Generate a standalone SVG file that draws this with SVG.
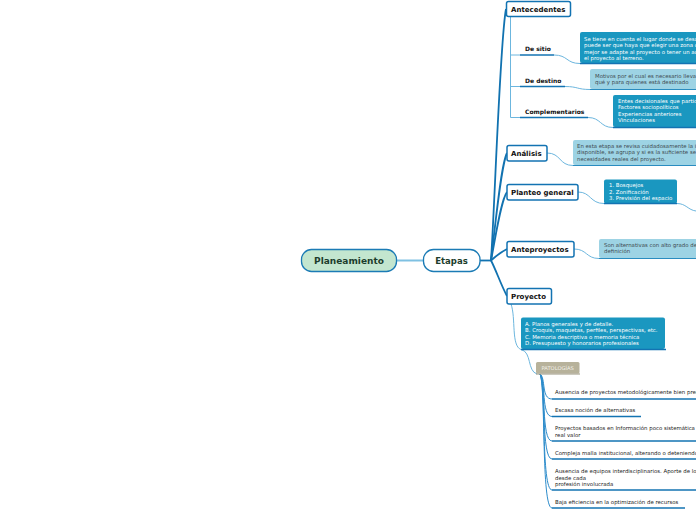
<svg xmlns="http://www.w3.org/2000/svg" width="696" height="520" viewBox="0 0 696 520">
<style>
.bg{fill:#ffffff}
.main{fill:none;stroke:#1172b0;stroke-width:1.8}
.thin{fill:none;stroke:#6cb6de;stroke-width:1}
.fan{fill:none;stroke:#2d8ccb;stroke-width:1}
.ul{fill:none;stroke:#1373b2;stroke-width:1.5}
.box{fill:#ffffff;stroke:#1373b2;stroke-width:1.5}
.lbl{font-family:"DejaVu Sans",Verdana,sans-serif;font-weight:bold;font-size:7px;fill:#111}
.sub{font-family:"DejaVu Sans",Verdana,sans-serif;font-weight:bold;font-size:6px;fill:#111}
.dark{fill:#1a97c0}
.light{fill:#9dd3e4}
.nt{font-family:"DejaVu Sans",Verdana,sans-serif;font-size:5.4px;fill:#ffffff}
.ntd{font-family:"DejaVu Sans",Verdana,sans-serif;font-size:5.4px;fill:#3d4a50}
.it{font-family:"DejaVu Sans",Verdana,sans-serif;font-size:5.4px;fill:#222}
</style>
<rect class="bg" x="0" y="0" width="696" height="520"/>

<g id="connectors">
  <line x1="397" y1="260.5" x2="423" y2="260.5" stroke="#7fc1e2" stroke-width="2"/>
  <line x1="480" y1="260.5" x2="491" y2="260.5" class="main"/>
  <path class="main" d="M491,260.5 C495,200 500,40 506,9"/>
  <path class="main" d="M491,260.5 C496,220 501,165 507,153"/>
  <path class="main" d="M491,260.5 C496,235 501,200 507,192"/>
  <path class="main" d="M491,260.5 C496,256 501,252 507,249"/>
  <path class="main" d="M491,260.5 C496,270 501,285 507,296"/>
  <path class="thin" d="M510.5,17 V117.5 H520"/>
  <path class="thin" d="M510.5,55 H520"/>
  <path class="thin" d="M510.5,86.5 H520"/>
  <line class="ul" x1="520" y1="55" x2="554" y2="55"/>
  <line class="ul" x1="520" y1="86.5" x2="565" y2="86.5"/>
  <line class="ul" x1="520" y1="117.5" x2="588" y2="117.5"/>
  <path class="thin" d="M554,55 C568,55 566,63.5 580,63.5"/>
  <path class="thin" d="M565,86.5 C578,86.5 577,89.5 590,89.5"/>
  <path class="thin" d="M588,117.5 C601,117.5 600,127.5 613,127.5"/>
  <path class="thin" d="M547,153 C561,153 559,165.5 573,165.5"/>
  <path class="thin" d="M578,192 C591,192 590,203.5 604,203.5"/>
  <path class="thin" d="M677,203.5 C686,203.5 688,210 696,211"/>
  <path class="thin" d="M574,249 C587,249 586,258.5 599,258.5"/>
  <path class="thin" d="M511,304 C516,318 511,346 521,349.5"/>
  <path class="thin" d="M521,349.5 C532,352 527,371 537,374"/>
  <path class="fan" d="M540,374 C546,378 541,399 552,399"/>
  <path class="fan" d="M540,374 C546,380 541,416.5 552,416.5"/>
  <path class="fan" d="M540,374 C546,382 541,441 552,441"/>
  <path class="fan" d="M540,374 C546,384 541,459 552,459"/>
  <path class="fan" d="M540,374 C546,386 541,490 552,490"/>
  <path class="fan" d="M540,374 C546,388 541,508 552,508"/>
  <line class="ul" x1="552" y1="399" x2="696" y2="399"/>
  <line class="ul" x1="552" y1="416.5" x2="641" y2="416.5"/>
  <line class="ul" x1="552" y1="441" x2="696" y2="441"/>
  <line class="ul" x1="552" y1="459" x2="696" y2="459"/>
  <line class="ul" x1="552" y1="490" x2="696" y2="490"/>
  <line class="ul" x1="552" y1="508" x2="685" y2="508"/>
</g>

<g id="planeamiento">
  <rect x="301.5" y="249.5" width="95" height="22" rx="10" fill="#c3e6cf" stroke="#1b7bb5" stroke-width="1.3"/>
  <text x="349" y="264" text-anchor="middle" font-family="DejaVu Sans, Verdana, sans-serif" font-weight="bold" font-size="9" fill="#1c3d2d">Planeamiento</text>
</g>
<g id="etapas">
  <rect x="423.5" y="249.5" width="56.5" height="22" rx="10" fill="#ffffff" stroke="#1b7bb5" stroke-width="1.3"/>
  <text x="451.5" y="264" text-anchor="middle" font-family="DejaVu Sans, Verdana, sans-serif" font-weight="bold" font-size="8.5" fill="#1c3d2d">Etapas</text>
</g>

<g id="antecedentes">
  <rect class="box" x="506.5" y="1.5" width="64" height="15" rx="2"/>
  <text class="lbl" x="511" y="11.8">Antecedentes</text>
</g>
<g id="de-sitio">
  <text class="sub" x="525" y="51">De sitio</text>
</g>
<g id="de-sitio-note">
  <rect class="dark" x="580" y="32" width="120" height="31" rx="2"/>
  <line class="ul" x1="580" y1="63.5" x2="700" y2="63.5"/>
  <text class="nt" x="584" y="40.5">Se tiene en cuenta el lugar donde se desarrollará</text>
  <text class="nt" x="584" y="47">puede ser que haya que elegir una zona que</text>
  <text class="nt" x="584" y="53.5">mejor se adapte al proyecto o tener un acercamiento</text>
  <text class="nt" x="584" y="60">el proyecto al terreno.</text>
</g>
<g id="de-destino">
  <text class="sub" x="525" y="82.5">De destino</text>
</g>
<g id="de-destino-note">
  <rect class="light" x="590" y="69" width="110" height="20" rx="2"/>
  <line x1="590" y1="89.5" x2="700" y2="89.5" stroke="#2a8cc0" stroke-width="1"/>
  <text class="ntd" x="595" y="77.5">Motivos por el cual es necesario llevar</text>
  <text class="ntd" x="595" y="84">qué y para quienes está destinado</text>
</g>
<g id="complementarios">
  <text class="sub" x="525" y="113.5">Complementarios</text>
</g>
<g id="complementarios-note">
  <rect class="dark" x="613" y="95" width="90" height="32" rx="2"/>
  <line class="ul" x1="613" y1="127.5" x2="700" y2="127.5"/>
  <text class="nt" x="618" y="102.5">Entes decisionales que participan</text>
  <text class="nt" x="618" y="109">Factores sociopolíticos</text>
  <text class="nt" x="618" y="115.5">Experiencias anteriores</text>
  <text class="nt" x="618" y="122">Vinculaciones</text>
</g>

<g id="analisis">
  <rect class="box" x="507" y="145.5" width="40" height="15.5" rx="2"/>
  <text class="lbl" x="511" y="156">Análisis</text>
</g>
<g id="analisis-note">
  <rect class="light" x="573" y="140" width="127" height="25" rx="2"/>
  <line x1="573" y1="165.5" x2="700" y2="165.5" stroke="#2a8cc0" stroke-width="1"/>
  <text class="ntd" x="577" y="147.5">En esta etapa se revisa cuidadosamente la información</text>
  <text class="ntd" x="577" y="154">disponible, se agrupa y si es la suficiente se analizan las</text>
  <text class="ntd" x="577" y="160.5">necesidades reales del proyecto.</text>
</g>

<g id="planteo-general">
  <rect class="box" x="507" y="184.5" width="71" height="15.5" rx="2"/>
  <text class="lbl" x="511" y="195">Planteo general</text>
</g>
<g id="planteo-note">
  <rect class="dark" x="604" y="179.5" width="73" height="24" rx="2"/>
  <line class="ul" x1="604" y1="203.5" x2="677" y2="203.5"/>
  <text class="nt" x="609" y="187">1. Bosquejos</text>
  <text class="nt" x="609" y="193.5">2. Zonificación</text>
  <text class="nt" x="609" y="200">3. Previsión del espacio</text>
</g>

<g id="anteproyectos">
  <rect class="box" x="507" y="241.5" width="67" height="15.5" rx="2"/>
  <text class="lbl" x="511" y="252">Anteproyectos</text>
</g>
<g id="anteproyectos-note">
  <rect class="light" x="599" y="239" width="101" height="19" rx="2"/>
  <line x1="599" y1="258.5" x2="700" y2="258.5" stroke="#2a8cc0" stroke-width="1"/>
  <text class="ntd" x="604" y="246.5">Son alternativas con alto grado de</text>
  <text class="ntd" x="604" y="253">definición</text>
</g>

<g id="proyecto">
  <rect class="box" x="507" y="288.5" width="44.5" height="15.5" rx="2"/>
  <text class="lbl" x="511" y="299">Proyecto</text>
</g>
<g id="proyecto-note">
  <rect class="dark" x="521" y="317.5" width="144" height="31.5" rx="2"/>
  <line class="ul" x1="521" y1="349.5" x2="666" y2="349.5"/>
  <text class="nt" x="525" y="325.5">A. Planos generales y de detalle.</text>
  <text class="nt" x="525" y="332">B. Croquis, maquetas, perfiles, perspectivas, etc.</text>
  <text class="nt" x="525" y="338.5">C. Memoria descriptiva o memoria técnica</text>
  <text class="nt" x="525" y="345">D. Presupuesto y honorarios profesionales</text>
</g>

<g id="patologias">
  <rect x="536" y="362" width="43.5" height="11.5" rx="1.5" fill="#b7b29b"/>
  <line x1="536" y1="374" x2="580" y2="374" stroke="#9a957e" stroke-width="1"/>
  <text x="557.7" y="370" text-anchor="middle" font-family="DejaVu Sans, Verdana, sans-serif" font-size="5.2" fill="#f2f1e8">PATOLOGÍAS</text>
</g>
<g id="pat-1"><text class="it" x="555" y="394">Ausencia de proyectos metodológicamente bien presentados</text></g>
<g id="pat-2"><text class="it" x="555" y="412">Escasa noción de alternativas</text></g>
<g id="pat-3">
  <text class="it" x="555" y="430">Proyectos basados en Información poco sistemática y de</text>
  <text class="it" x="555" y="436.5">real valor</text>
</g>
<g id="pat-4"><text class="it" x="555" y="455">Compleja malla institucional, alterando o deteniendo</text></g>
<g id="pat-5">
  <text class="it" x="555" y="473">Ausencia de equipos interdisciplinarios. Aporte de los</text>
  <text class="it" x="555" y="479.5">desde cada</text>
  <text class="it" x="555" y="486">profesión involucrada</text>
</g>
<g id="pat-6"><text class="it" x="555" y="504">Baja eficiencia en la optimización de recursos</text></g>
</svg>
